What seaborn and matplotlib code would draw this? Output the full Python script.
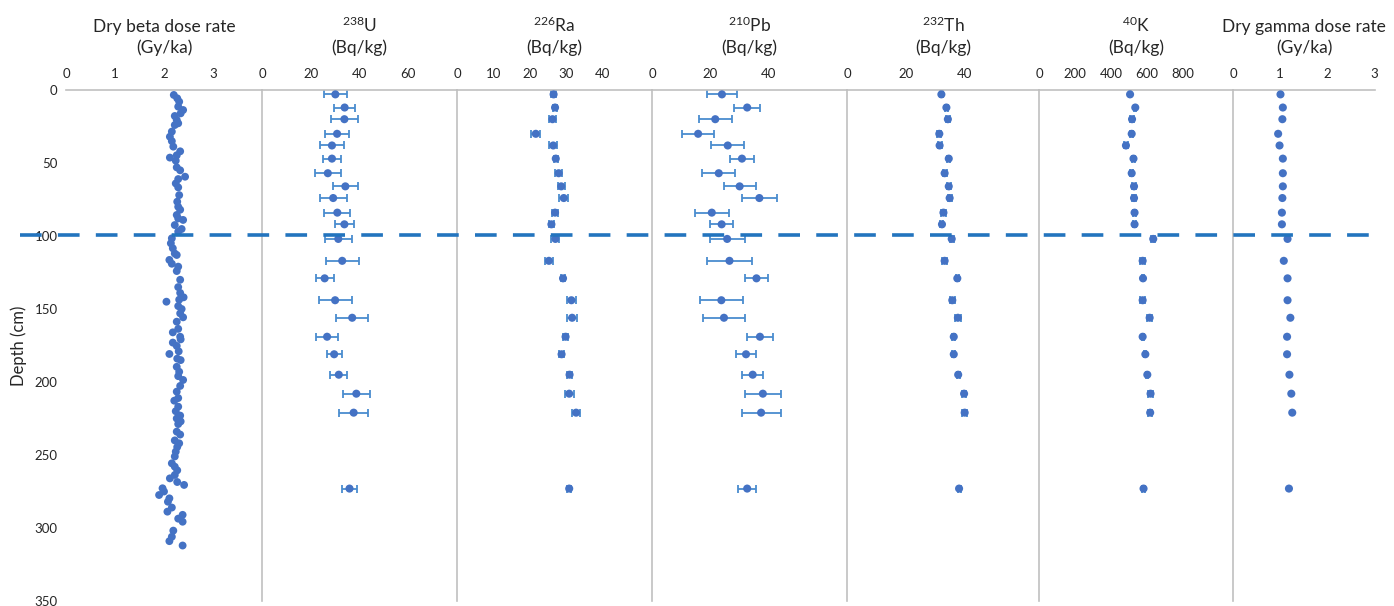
import numpy as np
import pandas as pd
import matplotlib
matplotlib.use("Agg")
import matplotlib.pyplot as plt
import matplotlib.transforms as mtransforms
from matplotlib.lines import Line2D
import seaborn as sns

# ---------------------------------------------------------------- data
# Dry beta dose rate, high-resolution profile
beta_depth = [3.4, 5.7, 8.0, 11.4, 13.7, 16.0, 17.8, 20.5, 22.8, 24.0, 28.5, 32.0, 35.0,
              38.8, 42.0, 44.7, 46.3, 48.4, 53.0, 55.0, 59.4, 61.0, 64.0, 66.7, 72.0, 76.5,
              80.0, 82.0, 85.6, 88.0, 89.0, 92.5, 95.2, 97.0, 101.6, 105.0, 108.4, 112.0,
              113.0, 116.4, 119.0, 121.0, 124.0, 130.0, 135.0, 139.0, 142.0, 143.6, 145.0,
              148.0, 150.0, 153.0, 155.7, 158.7, 163.6, 166.0, 169.0, 170.8, 173.0, 175.3,
              179.0, 180.8, 184.0, 185.0, 189.6, 193.0, 196.0, 198.6, 202.7, 206.6, 211.0,
              212.8, 216.9, 220.0, 223.0, 225.0, 227.0, 228.8, 234.0, 236.0, 240.0, 242.0,
              244.5, 247.7, 251.0, 255.7, 258.0, 260.5, 263.7, 266.0, 268.5, 270.5, 272.8,
              275.0, 277.4, 279.7, 282.0, 286.0, 288.8, 291.0, 293.6, 295.7, 301.8, 306.0,
              309.0, 312.0]
beta_rate = [2.20, 2.27, 2.31, 2.29, 2.39, 2.34, 2.22, 2.26, 2.29, 2.22, 2.16, 2.12, 2.16,
             2.19, 2.33, 2.26, 2.12, 2.24, 2.26, 2.33, 2.43, 2.29, 2.24, 2.29, 2.31, 2.27,
             2.29, 2.33, 2.26, 2.29, 2.39, 2.22, 2.36, 2.29, 2.16, 2.14, 2.18, 2.22,
             2.26, 2.11, 2.16, 2.29, 2.26, 2.33, 2.29, 2.33, 2.40, 2.31, 2.05,
             2.29, 2.36, 2.33, 2.39, 2.26, 2.29, 2.18, 2.33, 2.34, 2.18, 2.26,
             2.30, 2.11, 2.27, 2.34, 2.26, 2.31, 2.29, 2.39, 2.33, 2.26, 2.29,
             2.21, 2.29, 2.24, 2.33, 2.26, 2.34, 2.29, 2.26, 2.33, 2.22, 2.31,
             2.27, 2.24, 2.22, 2.16, 2.22, 2.27, 2.22, 2.12, 2.27, 2.41, 1.97,
             2.00, 1.90, 2.11, 2.08, 2.16, 2.07, 2.38, 2.29, 2.38, 2.19, 2.16,
             2.11, 2.38]

# Radionuclide samples
sample_depth = [3, 12, 20, 30, 38, 47, 57, 66, 74, 84, 92, 102, 117, 129, 144, 156, 169,
                181, 195, 208, 221, 273]
u238 = [30.1, 33.9, 33.8, 30.8, 28.7, 28.7, 27.0, 34.2, 29.2, 30.9, 33.8, 31.3, 32.9,
        25.7, 30.0, 37.0, 26.7, 29.6, 31.5, 38.7, 37.6, 35.9]
u238_err = [4.6, 4.2, 5.4, 4.9, 5.1, 3.8, 5.3, 5.1, 5.5, 5.3, 3.8, 5.5, 6.8, 3.7, 6.8,
            6.6, 4.4, 3.1, 3.5, 5.5, 6.0, 3.0]
ra226 = [26.6, 27.0, 26.3, 21.7, 26.5, 27.2, 28.0, 28.7, 29.4, 27.0, 26.0, 27.1, 25.3,
         29.2, 31.5, 31.7, 29.9, 28.8, 31.0, 30.9, 32.8, 30.9]
ra226_err = [0.6, 0.6, 0.9, 1.2, 1.1, 0.6, 1.0, 1.0, 1.2, 0.8, 0.7, 1.1, 1.2, 0.6, 1.2,
             1.3, 0.7, 0.6, 0.6, 1.2, 1.2, 0.6]
pb210 = [24.1, 32.8, 21.8, 15.9, 26.1, 31.0, 23.0, 30.2, 37.0, 20.6, 24.0, 25.9, 26.7,
         36.0, 23.9, 24.8, 37.2, 32.4, 34.7, 38.2, 37.6, 32.8]
pb210_err = [5.1, 4.5, 5.7, 5.4, 5.7, 4.1, 5.7, 5.5, 6.1, 5.9, 4.0, 6.0, 7.6, 4.0, 7.5,
             7.2, 4.6, 3.4, 3.7, 6.1, 6.7, 3.2]
th232 = [32.0, 33.7, 34.2, 31.3, 31.4, 34.5, 33.1, 34.5, 34.8, 32.7, 32.2, 35.5, 33.1,
         37.4, 35.7, 37.6, 36.2, 36.2, 37.7, 39.7, 39.9, 38.0]
th232_err = [0.5, 0.5, 0.7, 0.7, 0.7, 0.5, 0.7, 0.7, 0.7, 0.7, 0.5, 0.7, 0.8, 0.5, 0.9,
             0.9, 0.5, 0.5, 0.5, 0.8, 0.8, 0.5]
k40 = [507, 536, 518, 516, 484, 526, 516, 529, 529, 532, 532, 636, 577, 579, 577, 616,
       577, 592, 603, 621, 619, 582]
k40_err = [6, 6, 9, 9, 9, 6, 9, 9, 9, 9, 6, 12, 12, 6, 14, 14, 6, 6, 6, 12, 12, 6]
gamma_rate = [1.01, 1.06, 1.05, 0.96, 0.99, 1.06, 1.06, 1.06, 1.05, 1.04, 1.04, 1.16,
              1.08, 1.16, 1.16, 1.22, 1.15, 1.15, 1.20, 1.24, 1.26, 1.19]

boundary_depth = 99

titles = ["Dry beta dose rate\n(Gy/ka)", "$^{238}$U\n(Bq/kg)", "$^{226}$Ra\n(Bq/kg)",
          "$^{210}$Pb\n(Bq/kg)", "$^{232}$Th\n(Bq/kg)", "$^{40}$K\n(Bq/kg)",
          "Dry gamma dose rate\n(Gy/ka)"]
x_limits = [4.0, 80, 53.7, 67.2, 65.1, 1080, 3.02]
x_ticks = [[0, 1, 2, 3], [0, 20, 40, 60], [0, 10, 20, 30, 40], [0, 20, 40], [0, 20, 40],
           [0, 200, 400, 600, 800], [0, 1, 2, 3]]
depth_ticks = [0, 50, 100, 150, 200, 250, 300, 350]

# ---------------------------------------------------------------- style
sns.set_theme(style="white")
plt.rcParams["font.family"] = ["Lato", "DejaVu Sans"]
plt.rcParams["mathtext.fontset"] = "custom"
plt.rcParams["mathtext.rm"] = "Lato"
plt.rcParams["mathtext.default"] = "regular"

W, H = 1394, 606
fig = plt.figure(figsize=(W / 100, H / 100), dpi=100)

edges = [66, 262, 457, 652, 847, 1039, 1233, 1375]
top_px, bottom_px = 90, 601

point_color = "#4472C4"
err_color = "#4A8CCF"
grid_color = "#C0C0C0"
text_color = "#262626"

axes = []
for i in range(7):
    left = edges[i] / W
    width = (edges[i + 1] - edges[i]) / W
    ax = fig.add_axes([left, 1 - bottom_px / H, width, (bottom_px - top_px) / H])
    axes.append(ax)

series = [
    (beta_rate, beta_depth, None),
    (u238, sample_depth, u238_err),
    (ra226, sample_depth, ra226_err),
    (pb210, sample_depth, pb210_err),
    (th232, sample_depth, th232_err),
    (k40, sample_depth, k40_err),
    (gamma_rate, sample_depth, None),
]

for i, (ax, (vals, depths, errs)) in enumerate(zip(axes, series)):
    df = pd.DataFrame({"value": vals, "depth": depths})
    if errs is not None:
        ax.errorbar(vals, depths, xerr=errs, fmt="none", ecolor=err_color,
                    elinewidth=1.3, capsize=2.6, capthick=1.3, zorder=2)
    sns.scatterplot(data=df, x="value", y="depth", ax=ax, color=point_color,
                    s=32 if i == 0 else 34, edgecolor="none", linewidth=0, zorder=3)

    ax.set_xlim(0, x_limits[i])
    ax.set_ylim(350, 0)
    ax.set_xticks(x_ticks[i])
    ax.xaxis.tick_top()
    ax.tick_params(axis="x", length=0, pad=7, labelsize=9.5, labelcolor=text_color)
    ax.set_xlabel("")
    ax.set_ylabel("")

    for side in ["bottom", "right"]:
        ax.spines[side].set_visible(False)
    ax.spines["top"].set_color(grid_color)
    ax.spines["top"].set_linewidth(1.2)
    ax.set_yticks(depth_ticks)
    if i == 0:
        ax.spines["left"].set_visible(False)
        ax.tick_params(axis="y", length=0, pad=6, labelsize=9.5, labelcolor=text_color)
        ax.set_ylabel("Depth (cm)", fontsize=12, color=text_color)
        ax.yaxis.set_label_coords(-0.2, 0.5)
    else:
        ax.spines["left"].set_color(grid_color)
        ax.spines["left"].set_linewidth(1.2)
        ax.tick_params(axis="y", length=0, labelleft=False)

    ax.text(0.5, 1 + 34 / 511, titles[i], transform=ax.transAxes, ha="center",
            va="bottom", fontsize=12.5, color=text_color, linespacing=1.35)

# Unit boundary across all panels
trans = mtransforms.blended_transform_factory(fig.transFigure, axes[0].transData)
fig.add_artist(Line2D([20 / W, 1382 / W], [boundary_depth, boundary_depth],
                      transform=trans, color="#2374BE", linewidth=2.6,
                      linestyle=(0, (6.0, 4.5)), dash_capstyle="butt", zorder=10))

fig.savefig("out.png", dpi=100)
